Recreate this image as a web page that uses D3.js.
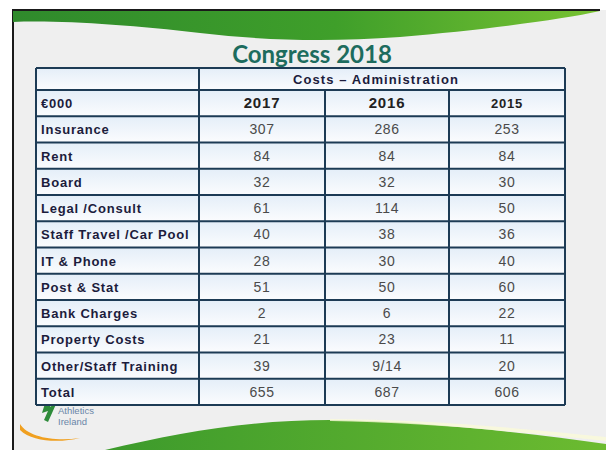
<!DOCTYPE html>
<html>
<head>
<meta charset="utf-8">
<script src="https://cdn.jsdelivr.net/npm/d3@7"></script>
<style>
  html, body { margin: 0; padding: 0; background: #fff; }
  svg { display: block; }
</style>
</head>
<body>
<div id="app"></div>
<script>
// table data
const title = 'Congress 2018';
const groupLabel = 'Costs \u2013 Administration';
const unitLabel = '\u20ac000';
const years = ['2017', '2016', '2015'];
const categories = ['Insurance', 'Rent', 'Board', 'Legal /Consult', 'Staff Travel /Car Pool',
  'IT & Phone', 'Post & Stat', 'Bank Charges', 'Property Costs', 'Other/Staff Training', 'Total'];
const values2017 = ['307', '84', '32', '61', '40', '28', '51', '2', '21', '39', '655'];
const values2016 = ['286', '84', '32', '114', '38', '30', '50', '6', '23', '9/14', '687'];
const values2015 = ['253', '84', '30', '50', '36', '40', '60', '22', '11', '20', '606'];

const W = 606;
const H = 450;
const colEdges = [36, 199, 325, 449, 565];
const tableTop = 68;
const groupRowBottom = 90;
const tableBottom = 405;
const lineColor = '#1d3b55';
const labelColor = '#1c1c3c';
const valueColor = '#4a4a4a';
const font = 'Liberation Sans, Arial, sans-serif';

const svg = d3.select('#app')
  .append('svg')
  .attr('width', W)
  .attr('height', H);

const defs = svg.append('defs');
const topGrad = defs.append('linearGradient').attr('id', 'topGreen');
topGrad.append('stop').attr('offset', '0%').attr('stop-color', '#2f8a2c');
topGrad.append('stop').attr('offset', '55%').attr('stop-color', '#3f9f2a');
topGrad.append('stop').attr('offset', '100%').attr('stop-color', '#78c232');
const botGrad = defs.append('linearGradient').attr('id', 'botGreen');
botGrad.append('stop').attr('offset', '0%').attr('stop-color', '#3c9a2c');
botGrad.append('stop').attr('offset', '100%').attr('stop-color', '#6cbb30');
const cellGrad = defs.append('linearGradient').attr('id', 'cellFill')
  .attr('x1', 0).attr('x2', 0).attr('y1', 0).attr('y2', 1);
cellGrad.append('stop').attr('offset', '0%').attr('stop-color', '#e4eef8');
cellGrad.append('stop').attr('offset', '100%').attr('stop-color', '#fbfcfe');

// slide background
svg.append('rect')
  .attr('x', 12).attr('y', 10)
  .attr('width', W - 12).attr('height', H - 10)
  .attr('fill', '#efefef');
svg.append('path')
  .attr('d', `M13,${H} L13,10 L${W - 6},10`)
  .attr('fill', 'none')
  .attr('stroke', '#1a1a1a')
  .attr('stroke-width', 2);

// top swoosh
svg.append('path')
  .attr('d', 'M13,11 L600,11 C560,20 480,30 400,37 C330,42 270,41 200,33 C130,25 60,20 13,22 Z')
  .attr('fill', 'url(#topGreen)');

// bottom swoosh
svg.append('path')
  .attr('d', `M105,${H} C180,432 250,420 330,420 C420,421 520,432 ${W},444 L${W},${H} Z`)
  .attr('fill', 'url(#botGreen)');
svg.append('path')
  .attr('d', `M330,419 C420,419 520,428 ${W},437 L${W},441 C520,432 420,422 330,421 Z`)
  .attr('fill', '#fafad8')
  .attr('opacity', 0.8);

// logo
svg.append('path')
  .attr('d', 'M20,424 C28,437 55,442 80,438 C60,443 32,442 20,430 Z')
  .attr('fill', '#f0a020');
svg.append('path')
  .attr('d', 'M47,397 L53,395 L50,407 L57,402 L48,422 L44,420 L48,411 L42,413 Z')
  .attr('fill', '#2e8b3a');
svg.append('text')
  .attr('x', 58).attr('y', 414)
  .attr('font-family', font)
  .attr('font-size', 9.5)
  .attr('fill', '#6a86a8')
  .text('Athletics');
svg.append('text')
  .attr('x', 58).attr('y', 425)
  .attr('font-family', font)
  .attr('font-size', 9.5)
  .attr('fill', '#6a86a8')
  .text('Ireland');

// title
svg.append('text')
  .attr('x', 312).attr('y', 63)
  .attr('text-anchor', 'middle')
  .attr('font-family', 'Lato, "Open Sans", sans-serif')
  .attr('font-weight', 'bold')
  .attr('font-size', 24)
  .attr('fill', '#1d6c5e')
  .text(title);

// rows: header (€000 + years) then categories
const rowKeys = [unitLabel].concat(categories);
const yScale = d3.scaleBand()
  .domain(rowKeys)
  .range([groupRowBottom, tableBottom]);

const rows = rowKeys.map((key, i) => (i === 0
  ? { label: key, cells: years, header: true }
  : { label: key, cells: [values2017[i - 1], values2016[i - 1], values2015[i - 1]], header: false }));

const table = svg.append('g').attr('class', 'table');

// cell fills
table.append('rect')
  .attr('x', colEdges[0]).attr('y', tableTop)
  .attr('width', colEdges[4] - colEdges[0]).attr('height', groupRowBottom - tableTop)
  .attr('fill', 'url(#cellFill)');
table.selectAll('.rowFill')
  .data(rows)
  .join('rect')
  .attr('class', 'rowFill')
  .attr('x', colEdges[0])
  .attr('y', d => yScale(d.label))
  .attr('width', colEdges[4] - colEdges[0])
  .attr('height', yScale.bandwidth())
  .attr('fill', 'url(#cellFill)');

// group header text
table.append('text')
  .attr('x', (colEdges[1] + colEdges[4]) / 2 - 6)
  .attr('y', (tableTop + groupRowBottom) / 2 + 5)
  .attr('text-anchor', 'middle')
  .attr('font-family', font)
  .attr('font-weight', 'bold')
  .attr('font-size', 13)
  .attr('letter-spacing', 1.1)
  .attr('fill', labelColor)
  .text(groupLabel);

const rowG = table.selectAll('.row')
  .data(rows)
  .join('g')
  .attr('class', 'row')
  .attr('transform', d => `translate(0,${yScale(d.label) + yScale.bandwidth() / 2})`);

rowG.append('text')
  .attr('x', colEdges[0] + 5)
  .attr('dy', 5)
  .attr('font-family', font)
  .attr('font-weight', 'bold')
  .attr('font-size', 13)
  .attr('letter-spacing', 0.8)
  .attr('fill', labelColor)
  .text(d => d.label);

rowG.selectAll('.val')
  .data(d => d.cells.map((v, j) => ({ v, j, header: d.header })))
  .join('text')
  .attr('class', 'val')
  .attr('x', d => (colEdges[d.j + 1] + colEdges[d.j + 2]) / 2)
  .attr('dy', 5)
  .attr('text-anchor', 'middle')
  .attr('font-family', font)
  .attr('font-weight', d => (d.header ? 'bold' : 'normal'))
  .attr('font-size', d => (d.header ? (d.j === 2 ? 13 : 15) : 14))
  .attr('letter-spacing', d => (d.header ? 0.8 : 0.6))
  .attr('fill', d => (d.header ? '#222' : valueColor))
  .text(d => d.v);

// grid lines
const hLines = [tableTop, groupRowBottom].concat(rowKeys.slice(1).map(k => yScale(k)), [tableBottom]);
table.selectAll('.hline')
  .data(hLines)
  .join('line')
  .attr('class', 'hline')
  .attr('x1', colEdges[0]).attr('x2', colEdges[4])
  .attr('y1', d => d).attr('y2', d => d)
  .attr('stroke', lineColor)
  .attr('stroke-width', 2);

table.selectAll('.vline')
  .data(colEdges)
  .join('line')
  .attr('class', 'vline')
  .attr('x1', d => d).attr('x2', d => d)
  .attr('y1', (d, i) => (i === 2 || i === 3 ? groupRowBottom : tableTop))
  .attr('y2', tableBottom)
  .attr('stroke', lineColor)
  .attr('stroke-width', 2);
</script>
</body>
</html>
